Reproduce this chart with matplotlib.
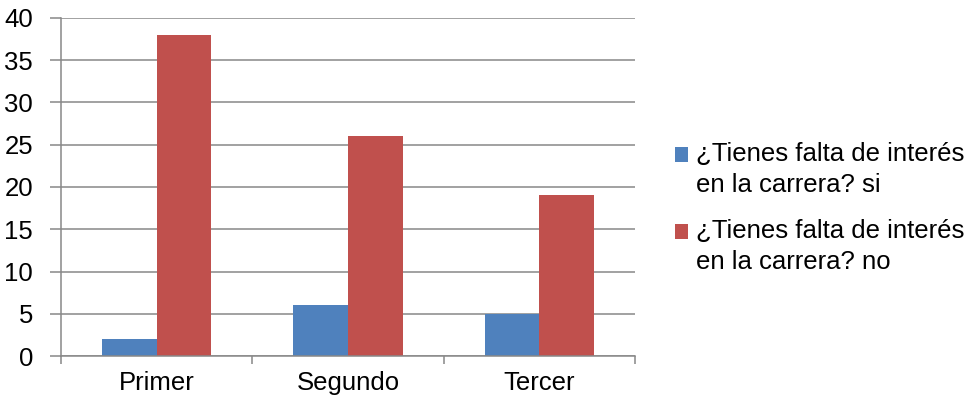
import numpy as np
import matplotlib.pyplot as plt
from matplotlib.patches import Rectangle
from matplotlib.container import BarContainer
from matplotlib.legend_handler import HandlerPatch, update_from_first_child

plt.rcParams['font.family'] = ['Liberation Sans', 'DejaVu Sans']

categories = ['Primer', 'Segundo', 'Tercer']
si_values = [2, 6, 5]
no_values = [38, 26, 19]
labels = ['¿Tienes falta de interés\nen la carrera? si',
          '¿Tienes falta de interés\nen la carrera? no']
yticks = [0, 5, 10, 15, 20, 25, 30, 35, 40]

blue = '#4F81BD'
red = '#C0504D'
grey = '#888888'
fs = 18.5

fig = plt.figure(figsize=(9.67, 4.01), dpi=100)
ax = fig.add_axes([61 / 967, 1 - 356 / 401, (635 - 61) / 967, (356 - 18) / 401])

x = np.arange(len(categories))
w = 0.286
b1 = ax.bar(x - w / 2, si_values, w, color=blue, label=labels[0])
b2 = ax.bar(x + w / 2, no_values, w, color=red, label=labels[1])

ax.set_xlim(-0.5, len(categories) - 0.5)
ax.set_ylim(0, 40)
ax.set_yticks(yticks)
ax.set_yticklabels([str(t) for t in yticks], fontsize=fs)
ax.yaxis.grid(True, color=grey, linewidth=1.1)
ax.set_axisbelow(True)

# category labels centred, tick marks on category boundaries
ax.set_xticks(x)
ax.set_xticklabels(categories, fontsize=fs)
ax.tick_params(axis='x', length=0, pad=11)
ax.set_xticks(np.arange(len(categories) + 1) - 0.5, minor=True)
ax.tick_params(axis='x', which='minor', length=6, width=1.1, color=grey)
ax.tick_params(axis='y', length=8, width=1.1, color=grey, pad=12)

for s in ['top', 'right']:
    ax.spines[s].set_visible(False)
for s in ['left', 'bottom']:
    ax.spines[s].set_color(grey)
    ax.spines[s].set_linewidth(1.1)


# legend swatch sits beside the first line of a two-line label
def top_square(legend, orig_handle, xdescent, ydescent, width, height, fontsize):
    return Rectangle((-xdescent, -ydescent + 0.6 * fontsize), width, height)


leg = fig.legend(handles=[b1, b2], loc='center left', bbox_to_anchor=(675 / 967, 1 - 208 / 401),
                 frameon=False, fontsize=fs, handlelength=0.5, handleheight=0.5,
                 handletextpad=0.3, labelspacing=0.85, borderaxespad=0, borderpad=0,
                 handler_map={BarContainer: HandlerPatch(patch_func=top_square,
                                                         update_func=update_from_first_child)})
for t in leg.get_texts():
    t.set_linespacing(1.35)

fig.savefig('out.png', dpi=100)
